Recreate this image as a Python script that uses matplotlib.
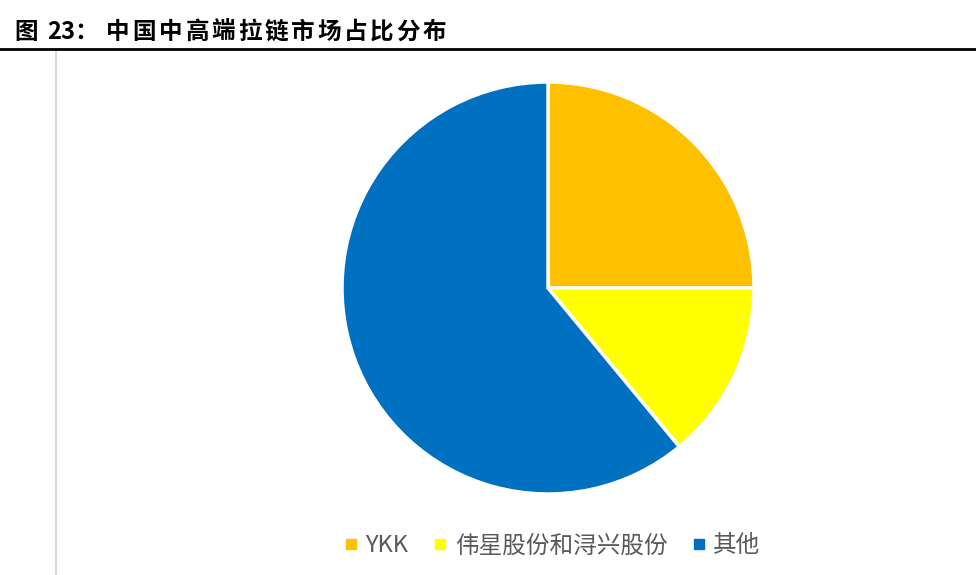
import matplotlib
matplotlib.use("Agg")
from matplotlib import pyplot as plt
from matplotlib.lines import Line2D

plt.rcParams['font.family'] = ['Noto Sans CJK SC', 'DejaVu Sans']

labels = ['YKK', '伟星股份和浔兴股份', '其他']
shares = [25, 14, 61]
colors = ['#FFC000', '#FFFF00', '#0070C0']
title_head = ['图', '23：']
title_body = '中国中高端拉链市场占比分布'

W, H = 976, 575
fig = plt.figure(figsize=(W / 100, H / 100), dpi=100)

# title (spaced out like the original report) and rule under it
ty = 1 - 32 / H
fig.text(14 / W, ty, title_head[0], fontsize=17, fontweight='bold', va='center')
fig.text(47 / W, ty, title_head[1], fontsize=17, fontweight='bold', va='center')
for i, ch in enumerate(title_body):
    fig.text((106 + i * 26.4) / W, ty, ch, fontsize=17, fontweight='bold', va='center')
fig.add_artist(Line2D([0, 1], [1 - 49 / H, 1 - 49 / H], color='black', lw=2,
                      transform=fig.transFigure))
fig.add_artist(Line2D([56 / W, 56 / W], [0, 1 - 52 / H], color='#D9D9D9', lw=1.5,
                      transform=fig.transFigure))

# pie
cx, cy, r = 548, 288, 206
ax = fig.add_axes([(cx - r) / W, 1 - (cy + r) / H, 2 * r / W, 2 * r / H])
wedges, _ = ax.pie(shares, colors=colors, startangle=90, counterclock=False,
                   radius=1, wedgeprops=dict(edgecolor='white', linewidth=2.5))
ax.set_xlim(-1, 1)
ax.set_ylim(-1, 1)
ax.set_aspect('auto')

handles = [Line2D([], [], ls='none', marker='s', markersize=7, color=c) for c in colors]
fig.legend(handles, labels, loc='center', bbox_to_anchor=(553 / W, 1 - 546 / H),
           ncol=3, frameon=False, fontsize=17, labelcolor='#595959',
           handlelength=0.5, handletextpad=0.35, columnspacing=1.1)

fig.savefig('out.png', dpi=100)
